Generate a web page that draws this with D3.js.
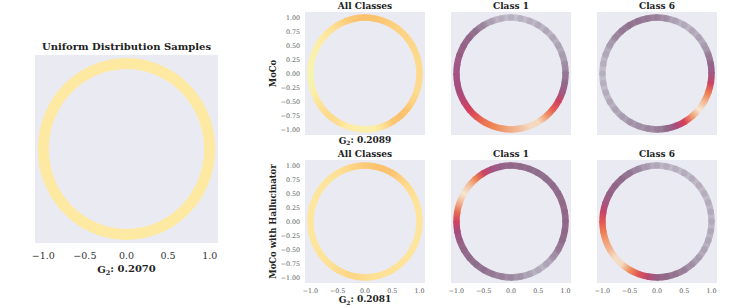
<!DOCTYPE html>
<html>
<head>
<meta charset="utf-8">
<script src="https://cdn.jsdelivr.net/npm/d3@7"></script>
<style>
  body { margin: 0; background: #fff; }
  text { font-family: "DejaVu Serif", serif; }
</style>
</head>
<body>
<svg id="chart" width="747" height="308"></svg>
<script>
// angles (degrees, counter-clockwise from +x) at which the ring density was read
var angleDeg = [0, 10, 20, 30, 40, 50, 60, 70, 80, 90, 100, 110,
	120, 130, 140, 150, 160, 170, 180, 190, 200, 210, 220, 230,
	240, 250, 260, 270, 280, 290, 300, 310, 320, 330, 340, 350];

// relative density along the circle, 0 = low, 1 = high
var uniformDensity = [0.3, 0.3, 0.3, 0.3, 0.3, 0.3, 0.3, 0.3, 0.3, 0.3, 0.3, 0.3,
	0.3, 0.3, 0.3, 0.3, 0.3, 0.3, 0.3, 0.3, 0.3, 0.3, 0.3, 0.3,
	0.3, 0.3, 0.3, 0.3, 0.3, 0.3, 0.3, 0.3, 0.3, 0.3, 0.3, 0.3];

var mocoAll = [0.5, 0.5, 0.52, 0.55, 0.58, 0.6, 0.65, 0.75, 0.82, 0.85, 0.8, 0.68,
	0.5, 0.38, 0.3, 0.2, 0.12, 0.08, 0.06, 0.1, 0.2, 0.35, 0.45, 0.5,
	0.45, 0.3, 0.2, 0.15, 0.2, 0.45, 0.75, 0.85, 0.78, 0.6, 0.5, 0.5];
var mocoClass1 = [0.32, 0.26, 0.22, 0.2, 0.18, 0.17, 0.16, 0.14, 0.12, 0.12, 0.14, 0.2,
	0.28, 0.34, 0.38, 0.4, 0.42, 0.45, 0.47, 0.49, 0.5, 0.56, 0.62, 0.7,
	0.76, 0.8, 0.84, 0.88, 0.92, 0.97, 0.97, 0.85, 0.72, 0.62, 0.45, 0.37];
var mocoClass6 = [0.45, 0.38, 0.3, 0.22, 0.2, 0.18, 0.16, 0.2, 0.26, 0.3, 0.32, 0.33,
	0.34, 0.32, 0.28, 0.22, 0.18, 0.14, 0.13, 0.13, 0.15, 0.17, 0.2, 0.22,
	0.25, 0.26, 0.28, 0.3, 0.36, 0.5, 0.64, 0.85, 1.0, 0.9, 0.78, 0.6];

var halAll = [0.35, 0.35, 0.38, 0.42, 0.5, 0.62, 0.78, 0.85, 0.8, 0.72, 0.62, 0.5,
	0.42, 0.38, 0.35, 0.35, 0.34, 0.34, 0.34, 0.34, 0.35, 0.36, 0.38, 0.42,
	0.48, 0.55, 0.55, 0.48, 0.42, 0.4, 0.4, 0.38, 0.36, 0.35, 0.35, 0.35];
var halClass1 = [0.38, 0.38, 0.37, 0.36, 0.36, 0.35, 0.35, 0.36, 0.37, 0.38, 0.4, 0.47,
	0.6, 0.8, 0.92, 1.0, 0.9, 0.75, 0.62, 0.5, 0.42, 0.38, 0.36, 0.35,
	0.34, 0.32, 0.3, 0.28, 0.25, 0.2, 0.16, 0.18, 0.25, 0.32, 0.36, 0.38];
var halClass6 = [0.16, 0.16, 0.15, 0.14, 0.14, 0.15, 0.15, 0.14, 0.15, 0.17, 0.22, 0.28,
	0.33, 0.36, 0.38, 0.4, 0.46, 0.58, 0.7, 0.78, 0.85, 0.9, 0.98, 0.97,
	0.82, 0.7, 0.55, 0.42, 0.36, 0.33, 0.3, 0.26, 0.22, 0.2, 0.18, 0.17];

var colTitles = ["All Classes", "Class 1", "Class 6"];
var rowLabels = ["MoCo", "MoCo with Hallucinator"];
var g2Uniform = "0.2070";
var g2Rows = ["0.2089", "0.2081"];
var bigXTicks = [-1.0, -0.5, 0.0, 0.5, 1.0];
var smallXTicks = [-1.0, -0.5, 0.0, 0.5, 1.0];
var smallYTicks = [1.0, 0.75, 0.5, 0.25, 0.0, -0.25, -0.5, -0.75, -1.0];

var svg = d3.select("#chart");
var defs = svg.append("defs");
var gradId = 0;

// colour maps: yellow-orange for all classes, magma-like for single classes
var allColor = d3.scaleLinear()
	.domain([0, 0.3, 0.6, 1])
	.range(["#f4f7b6", "#fee9a2", "#fdd383", "#fbb45c"])
	.interpolate(d3.interpolateRgb);
var classColor = d3.scaleLinear()
	.domain([0, 0.2, 0.35, 0.5, 0.65, 0.8, 1])
	.range(["#d9d7e1", "#b6afbf", "#93728f", "#a84b7f", "#dc3f55", "#ee8452", "#f5e8d4"])
	.interpolate(d3.interpolateRgb);

function fmt1(d) { return d3.format(".1f")(d); }
function fmt2(d) { return d3.format(".2f")(d); }

// one panel: background, ring, optional ticks
function drawPanel(x0, y0, w, h, density, color, band, opts) {
	var x = d3.scaleLinear().domain([-1.1, 1.1]).range([x0, x0 + w]);
	var y = d3.scaleLinear().domain([-1.1, 1.1]).range([y0 + h, y0]);
	var g = svg.append("g");

	g.append("rect")
		.attr("x", x0).attr("y", y0)
		.attr("width", w).attr("height", h)
		.attr("fill", "#eaeaf2");

	var rx = x(1) - x(0), ry = y(0) - y(1);
	var pt = function(deg) {
		var t = deg * Math.PI / 180;
		return [x(Math.cos(t)), y(Math.sin(t))];
	};

	var n = angleDeg.length;
	for (var i = 0; i < n; i++) {
		var a0 = angleDeg[i];
		var a1 = i + 1 < n ? angleDeg[i + 1] : angleDeg[0] + 360;
		var p0 = pt(a0), p1 = pt(a1), pEnd = pt(a1 + 1.5);
		var id = "grad" + (gradId++);
		var lg = defs.append("linearGradient")
			.attr("id", id)
			.attr("gradientUnits", "userSpaceOnUse")
			.attr("x1", p0[0]).attr("y1", p0[1])
			.attr("x2", p1[0]).attr("y2", p1[1]);
		lg.append("stop").attr("offset", 0).attr("stop-color", color(density[i]));
		lg.append("stop").attr("offset", 1).attr("stop-color", color(density[(i + 1) % n]));

		g.append("path")
			.attr("d", "M" + p0[0] + "," + p0[1] + " A" + rx + "," + ry +
				" 0 0 0 " + pEnd[0] + "," + pEnd[1])
			.attr("fill", "none")
			.attr("stroke", "url(#" + id + ")")
			.attr("stroke-width", band);
	}

	// faint scatter-like texture for the single class plots
	if (opts.dots) {
		g.selectAll("circle.dot")
			.data(angleDeg.map(function(a, i) { return { a: a, v: density[i] }; }))
			.enter()
			.append("circle")
			.attr("class", "dot")
			.attr("cx", function(d) { return pt(d.a)[0]; })
			.attr("cy", function(d) { return pt(d.a)[1]; })
			.attr("r", band / 2)
			.attr("fill", "#6e5577")
			.attr("fill-opacity", function(d) { return d.v < 0.45 ? 0.13 : 0.0; });
	}

	if (opts.xTicks) {
		g.selectAll("text.xt")
			.data(opts.xTicks)
			.enter()
			.append("text")
			.attr("x", function(d) { return x(d); })
			.attr("y", y0 + h + opts.xTickGap)
			.attr("text-anchor", "middle")
			.attr("font-size", opts.tickSize)
			.attr("fill", opts.tickColor)
			.text(fmt1);
	}
	if (opts.yTicks) {
		g.selectAll("text.yt")
			.data(opts.yTicks)
			.enter()
			.append("text")
			.attr("x", x0 - 5)
			.attr("y", function(d) { return y(d); })
			.attr("dy", "0.35em")
			.attr("text-anchor", "end")
			.attr("font-size", opts.tickSize)
			.attr("fill", opts.tickColor)
			.text(fmt2);
	}
	if (opts.title) {
		g.append("text")
			.attr("x", x0 + w / 2)
			.attr("y", y0 - opts.titleGap)
			.attr("text-anchor", "middle")
			.attr("font-size", opts.titleSize)
			.attr("font-weight", "bold")
			.attr("fill", "#222")
			.text(opts.title);
	}
	if (opts.g2) {
		var t = g.append("text")
			.attr("x", x0 + w / 2)
			.attr("y", opts.g2Y)
			.attr("text-anchor", "middle")
			.attr("font-size", opts.g2Size)
			.attr("font-weight", "bold")
			.attr("fill", "#222");
		t.append("tspan").text("G");
		t.append("tspan").attr("font-size", opts.g2Size * 0.65).attr("dy", "0.3em").text("2");
		t.append("tspan").attr("dy", "-0.3em").text(": " + opts.g2);
	}
}

// left big panel
drawPanel(35, 55, 183, 188, uniformDensity, allColor, 11, {
	xTicks: bigXTicks, xTickGap: 15.5, tickSize: 9.5, tickColor: "#333",
	title: "Uniform Distribution Samples", titleGap: 5, titleSize: 10,
	g2: g2Uniform, g2Y: 273, g2Size: 10
});

// right grid
var colX = [305, 451, 597];
var rowY = [12, 160];
var panelW = 120, panelH = 123;
var gridData = [[mocoAll, mocoClass1, mocoClass6], [halAll, halClass1, halClass6]];

rowLabels.forEach(function(label, r) {
	colTitles.forEach(function(title, c) {
		drawPanel(colX[c], rowY[r], panelW, panelH, gridData[r][c],
			c === 0 ? allColor : classColor, 6.5, {
			dots: c !== 0,
			xTicks: r === 1 ? smallXTicks : null, xTickGap: 10,
			yTicks: c === 0 ? smallYTicks : null,
			tickSize: 6.3, tickColor: "#555",
			title: title, titleGap: 3, titleSize: 9,
			g2: c === 0 ? g2Rows[r] : null,
			g2Y: r === 0 ? 143.5 : 303, g2Size: 9
		});
	});
	svg.append("text")
		.attr("transform", "translate(276," + (rowY[r] + panelH / 2) + ") rotate(-90)")
		.attr("text-anchor", "middle")
		.attr("font-size", 8.5)
		.attr("font-weight", "bold")
		.attr("fill", "#222")
		.text(label);
});
</script>
</body>
</html>
